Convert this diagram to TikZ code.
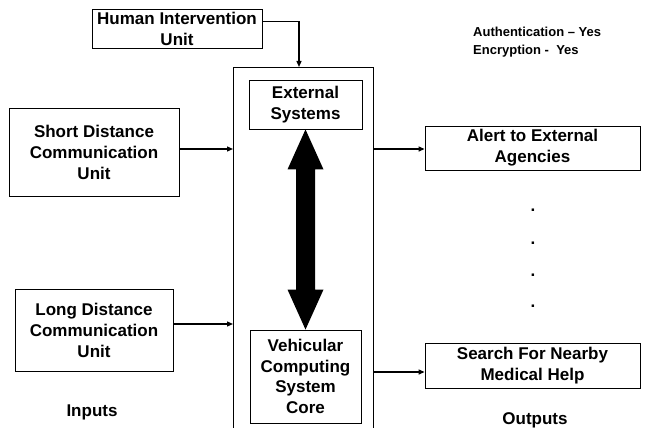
\documentclass[tikz,border=0pt]{standalone}
\usepackage{fontspec}
\setmainfont{Liberation Sans}
\usetikzlibrary{arrows.meta,calc}
\begin{document}
\begin{tikzpicture}[x=1pt,y=-1pt,
  box/.style={draw=black,line width=0.9pt,inner sep=0pt,align=center,
    font=\fontsize{17}{21}\selectfont\bfseries},
  lbl/.style={inner sep=0pt,font=\fontsize{17}{21}\selectfont\bfseries},
  conn/.style={line width=1.3pt,-{Triangle[length=6pt,width=5pt]}},
  frame/.style={line width=0.9pt}]
\useasboundingbox (0,0) rectangle (645,428);
% big system frame (open at the bottom)
\coordinate (bl) at (233,428);
\coordinate (tl) at (233,67);
\coordinate (tr) at (373,67);
\coordinate (br) at (373,428);
\coordinate (hin) at (299,67);
\draw[frame] (bl) -- (tl) -- (tr) -- (br);
% nodes
\node[box,minimum width=170pt,minimum height=39pt] (human) at (177,28.5) {Human Intervention\\Unit};
\node[box,minimum width=113pt,minimum height=49pt] (ext) at (305.5,104.5) {External\\Systems};
\node[box,minimum width=170pt,minimum height=88pt] (short) at (94,152) {Short Distance\\Communication\\Unit};
\node[box,minimum width=158pt,minimum height=82pt] (long) at (94,330) {Long Distance\\Communication\\Unit};
\node[box,minimum width=111pt,minimum height=93pt,font=\fontsize{17}{20.5}\selectfont\bfseries] (veh) at (305.5,376.5) {Vehicular\\Computing\\System\\Core};
\node[box,minimum width=215pt,minimum height=44pt] (alert) at (532.5,148) {Alert to External\\Agencies};
\node[box,minimum width=215pt,minimum height=45pt] (search) at (532.5,366) {Search For Nearby\\Medical Help};
\node[inner sep=0pt,anchor=base west,align=left,font=\fontsize{13}{18}\selectfont\bfseries] (auth) at (473,54.5) {Authentication -- Yes\\Encryption -\ \ Yes};
\node[lbl,anchor=base] (inputs) at (92,416) {Inputs};
\node[lbl,anchor=base] (outputs) at (535,424) {Outputs};
\foreach \i/\yy in {1/211,2/244,3/276,4/307}
  \node[lbl,anchor=base] (dot\i) at (533,\yy) {.};
% connectors
\draw[conn] ([yshift=7pt]human.east) -| (hin);
\draw[conn] ([yshift=3pt]short.east) -- ([yshift=3pt]short.east -| tl);
\draw[conn] ([yshift=6pt]long.east) -- ([yshift=6pt]long.east -| tl);
\draw[conn] ([yshift=-1pt]alert.west -| tr) -- ([yshift=-1pt]alert.west);
\draw[conn] ([yshift=-6pt]search.west -| tr) -- ([yshift=-6pt]search.west);
% double arrow between external systems and core
\fill[black] (ext.south) -- ++(18,40) -- ++(-8.5,0)
  -- ($(veh.north)+(9.5,-40)$) -- ++(8.5,0) -- (veh.north)
  -- ++(-18,-40) -- ++(8.5,0) -- ($(ext.south)+(-9.5,40)$) -- ++(-8.5,0) -- cycle;
\end{tikzpicture}
\end{document}
